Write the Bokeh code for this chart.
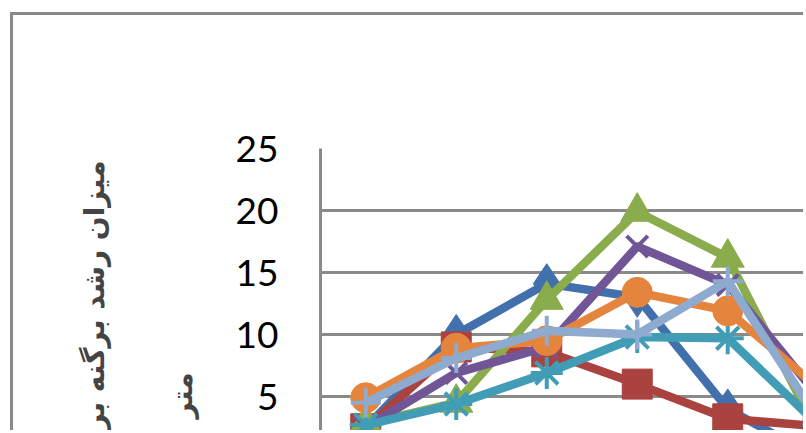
import math
from bokeh.plotting import figure
from bokeh.models import Range1d, FixedTicker, Title
from bokeh.embed import file_html
from bokeh.resources import INLINE

categories = [1, 2, 3, 4, 5, 6]
s_blue = [2.5, 10.0, 14.1, 13.0, 4.0, 0.0]
s_red = [2.4, 9.0, 8.6, 6.0, 3.2, 2.6]
s_green = [2.8, 4.5, 12.8, 19.9, 16.2, 2.0]
s_purple = [2.5, 6.9, 9.0, 17.1, 14.0, 5.0]
s_teal = [2.7, 4.4, 6.9, 9.8, 9.7, 2.7]
s_orange = [4.9, 8.9, 9.5, 13.4, 11.9, 5.7]
s_lightblue = [4.5, 8.1, 10.3, 10.0, 14.3, 3.1]
y_ticks = [0, 5, 10, 15, 20, 25]
title_line1 = "میزان رشد برگنه بر حسب سانتی"
title_line2 = "متر"

OX, OY, B = 10, 12, 3
W, H = 806 - OX - B, 433 - OY - B
FL, FT = 320 - OX - B, 148 - OY - B
p = figure(width=W, height=H, output_backend="svg", toolbar_location=None,
           x_range=Range1d(0.5, 0.5 + 486 / 90.5), y_range=Range1d(25 - 285 / 12.4, 25),
           min_border_left=FL, min_border_top=FT, min_border_right=0, min_border_bottom=0)
p.styles = {"margin-left": f"{OX}px", "margin-top": f"{OY}px",
            "border-left": f"{B}px solid #8a8a8a", "border-top": f"{B}px solid #8a8a8a"}
p.outline_line_color = None
p.xaxis.visible = False
p.xgrid.visible = False
p.ygrid.ticker = FixedTicker(ticks=y_ticks)
p.ygrid.grid_line_color = "#8a8a8a"
p.ygrid.grid_line_width = 3
ya = p.yaxis[0]
ya.ticker = FixedTicker(ticks=y_ticks)
ya.axis_line_color = "#8a8a8a"
ya.axis_line_width = 3
ya.major_tick_line_color = None
ya.minor_tick_line_color = None
ya.major_tick_out = 0
ya.major_label_standoff = 42
ya.major_label_text_font = "Lato"
ya.major_label_text_font_size = "37px"
ya.major_label_text_color = "#000000"

series = [
    (s_blue, "#4170AD", "diamond", 40),
    (s_red, "#AA433F", "square", 30),
    (s_green, "#8AAC4C", "triangle", 33),
    (s_purple, "#705597", "x", 30),
    (s_teal, "#419DB5", "asterisk", 32),
    (s_orange, "#E5853D", "circle", 30),
    (s_lightblue, "#8FAACF", "cross", 30),
]
for vals, col, mk, sz in series:
    p.line(categories, vals, line_color=col, line_width=8.5, line_join="round")
    if mk in ("x", "asterisk", "cross"):
        p.scatter(categories, vals, marker=mk, size=sz, line_color=col, line_width=4)
    else:
        p.scatter(categories, vals, marker=mk, size=sz, fill_color=col, line_color=col)

t2 = Title(text=title_line2, align="left", offset=15, standoff=67,
           text_font="DejaVu Sans", text_font_style="bold", text_font_size="28px")
t1 = Title(text=title_line1, align="right", offset=12, standoff=40,
           text_font="DejaVu Sans", text_font_style="bold", text_font_size="28px")
p.add_layout(t2, "left")
p.add_layout(t1, "left")

open("out.html", "w").write(file_html(p, INLINE))
